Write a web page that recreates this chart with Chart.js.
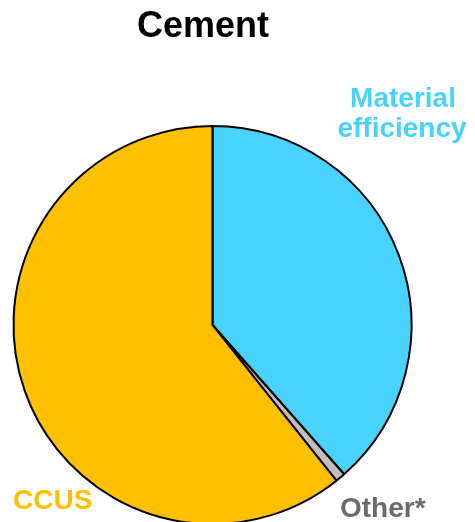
<!DOCTYPE html>
<html>
<head>
<meta charset="utf-8">
<script src="https://cdn.jsdelivr.net/npm/chart.js@4"></script>
<style>
  html, body { margin: 0; padding: 0; background: #fff; }
  #wrap { width: 475px; height: 522px; overflow: hidden; position: relative; }
</style>
</head>
<body>
<div id="wrap"><canvas id="c" width="475" height="540"></canvas></div>
<script>
// Données (part en %)
const categories = ['Material efficiency', 'Other*', 'CCUS'];
const values = [38.5, 0.8, 60.7];
const colors = ['#48d3ff', '#bfbfbf', '#ffc000'];
const titleText = 'Cement';

// Étiquettes dessinées à la main autour du camembert
const labelPlugin = {
    id: 'labels',
    afterDraw(chart) {
        const ctx = chart.ctx;
        ctx.save();
        ctx.textBaseline = 'alphabetic';
        ctx.textAlign = 'center';
        ctx.fillStyle = '#000';
        ctx.font = 'bold 36px "Liberation Sans", Arial, sans-serif';
        ctx.fillText(titleText, 203, 37);

        ctx.font = 'bold 28px "Liberation Sans", Arial, sans-serif';
        ctx.fillStyle = '#48d3ff';
        ctx.fillText('Material', 403, 107);
        ctx.fillText('efficiency', 402, 137);

        ctx.textAlign = 'left';
        ctx.fillStyle = '#ffc000';
        ctx.fillText('CCUS', 13, 509);
        ctx.fillStyle = '#6b6b6b';
        ctx.fillText('Other*', 340, 517);
        ctx.restore();
    }
};

new Chart(document.getElementById('c'), {
    type: 'pie',
    data: {
        labels: categories,
        datasets: [{
            data: values,
            backgroundColor: colors,
            borderColor: '#000000',
            borderWidth: 2
        }]
    },
    options: {
        responsive: false,
        animation: false,
        layout: { padding: { left: 12.5, right: 62.5, top: 125, bottom: 15 } },
        plugins: {
            legend: { display: false },
            tooltip: { enabled: false }
        }
    },
    plugins: [labelPlugin]
});
</script>
</body>
</html>
